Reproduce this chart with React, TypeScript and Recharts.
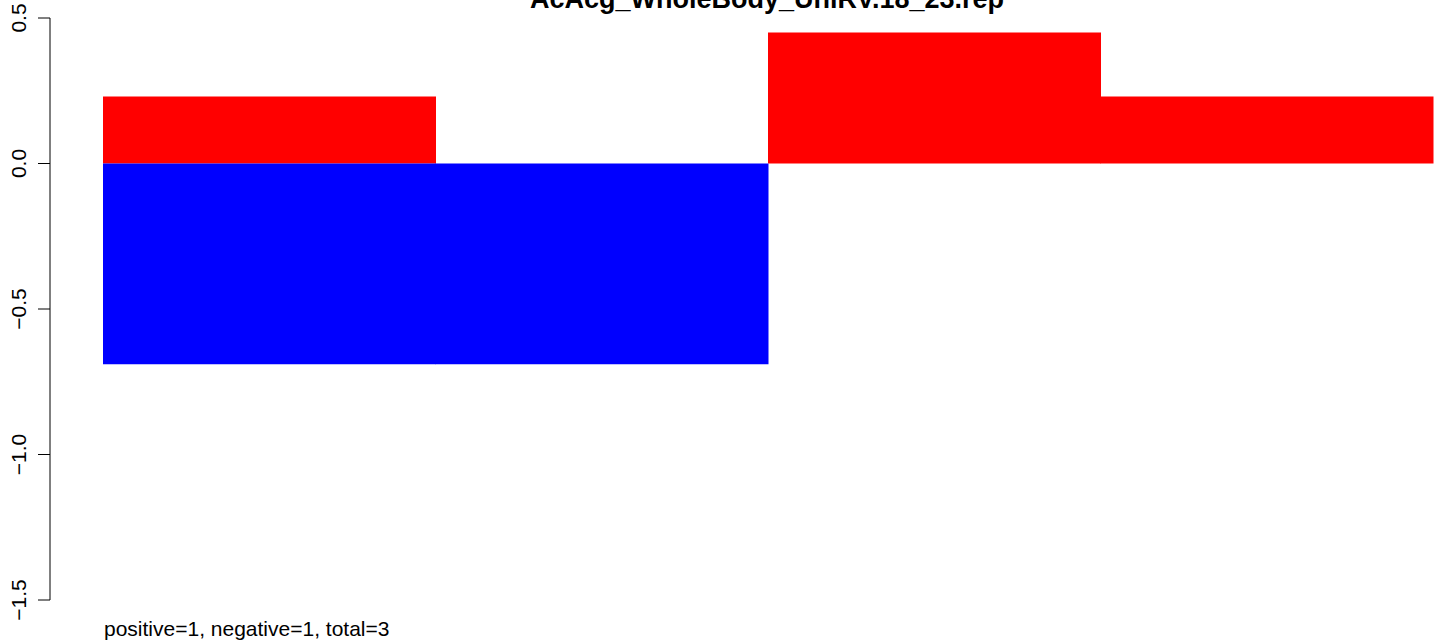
import React from 'react';
import { BarChart, Bar, XAxis, YAxis } from 'recharts';

// values
const segments = ['s1', 's2', 's3', 's4'];
const positiveValues = [0.23, 0, 0.45, 0.23];
const negativeValues = [-0.69, -0.69, 0, 0];
const yTicks = [-1.5, -1, -0.5, 0, 0.5];

const title = 'AcAcg_WholeBody_UniRV.18_23.rep';
const footnote = 'positive=1, negative=1, total=3';

const data = segments.map((name, i) => ({
  name,
  pos: positiveValues[i],
  neg: negativeValues[i],
}));

const fmt = (v: number) => {
  const s = Math.abs(v).toFixed(1);
  return v < 0 ? '\u2212' + s : s;
};

const RotatedTick = ({ y, payload }: any) => (
  <text
    x={0}
    y={0}
    transform={`translate(26, ${y}) rotate(-90)`}
    textAnchor="middle"
    fontSize={21}
    fill="#000"
    fontFamily="'Liberation Sans', Arial, sans-serif"
  >
    {fmt(payload.value)}
  </text>
);

export default function App() {
  return (
    <div
      style={{
        position: 'absolute',
        left: 0,
        top: 0,
        width: 1444,
        height: 641,
        background: '#fff',
        fontFamily: "'Liberation Sans', Arial, sans-serif",
      }}
    >
      <BarChart
        width={1444}
        height={641}
        data={data}
        stackOffset="sign"
        barCategoryGap={0}
        margin={{ top: 18, right: 11, bottom: 41, left: 0 }}
      >
        <XAxis dataKey="name" hide padding={{ left: 53, right: 0 }} />
        <YAxis
          width={50}
          domain={[-1.5, 0.5]}
          ticks={yTicks}
          allowDataOverflow
          tickSize={12}
          tickLine={{ stroke: '#000', strokeWidth: 1 }}
          axisLine={{ stroke: '#000', strokeWidth: 1 }}
          tick={<RotatedTick />}
        />
        <Bar dataKey="pos" stackId="a" fill="#ff0000" isAnimationActive={false} />
        <Bar dataKey="neg" stackId="a" fill="#0000ff" isAnimationActive={false} />
      </BarChart>
      <svg
        width={1444}
        height={641}
        style={{ position: 'absolute', left: 0, top: 0, pointerEvents: 'none' }}
      >
        <text
          x={767}
          y={8}
          textAnchor="middle"
          fontSize={27}
          fontWeight="bold"
          fill="#000"
          fontFamily="'Liberation Sans', Arial, sans-serif"
        >
          {title}
        </text>
        <text
          x={104}
          y={636}
          fontSize={21}
          fill="#000"
          fontFamily="'Liberation Sans', Arial, sans-serif"
        >
          {footnote}
        </text>
      </svg>
    </div>
  );
}
